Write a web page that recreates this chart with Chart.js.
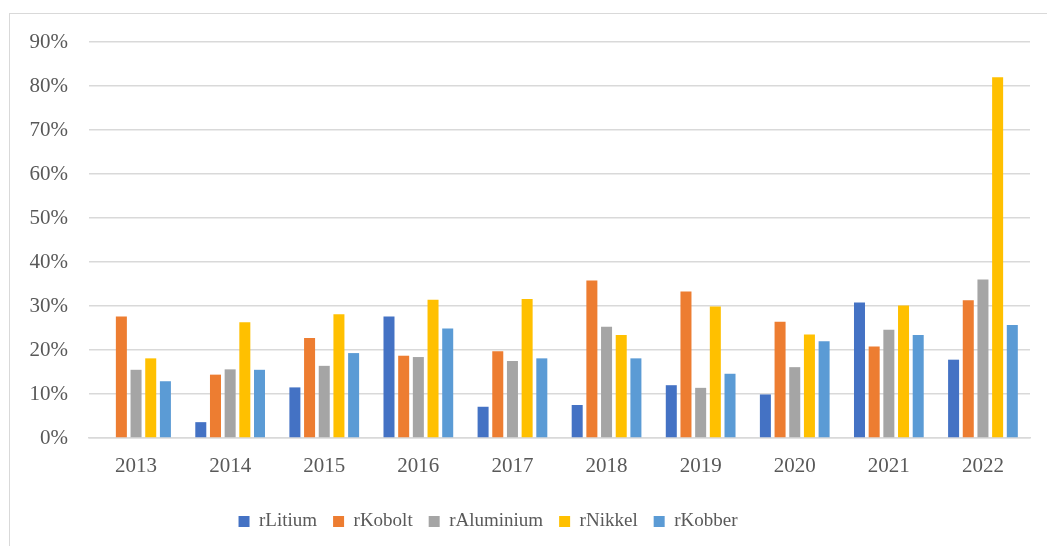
<html>
<head>
<title>Metallpriser</title>
<style type="text/css">
html, body {
	margin: 0;
	padding: 0;
	background: #fff;
	overflow: hidden;
}
#frame {
	position: absolute;
	left: 9px;
	top: 13px;
	width: 1100px;
	height: 600px;
	border: 1.5px solid #d9d9d9;
}
#wrap {
	position: absolute;
	left: 0;
	top: 0;
	width: 1047px;
	height: 546px;
}
</style>
<script src="https://cdn.jsdelivr.net/npm/chart.js"></script>
<script>
const years = ['2013', '2014', '2015', '2016', '2017', '2018', '2019', '2020', '2021', '2022'];
const yTicks = [0, 10, 20, 30, 40, 50, 60, 70, 80, 90];

// yearly values, in percent
const rLitium     = [0, 3.6, 11.5, 27.6, 7.1, 7.5, 12.0, 9.9, 30.8, 17.8];
const rKobolt     = [27.6, 14.4, 22.7, 18.7, 19.7, 35.8, 33.3, 26.4, 20.8, 31.3];
const rAluminium  = [15.5, 15.6, 16.4, 18.4, 17.5, 25.3, 11.4, 16.1, 24.6, 36.0];
const rNikkel     = [18.1, 26.3, 28.1, 31.4, 31.6, 23.4, 29.9, 23.5, 30.1, 82.0];
const rKobber     = [12.9, 15.5, 19.3, 24.9, 18.1, 18.1, 14.6, 22.0, 23.4, 25.7];

function serie(label, data, color)
{
	return {
		label: label,
		data: data,
		backgroundColor: color,
		borderColor: color,
		borderWidth: 0,
		categoryPercentage: 0.78,
		barPercentage: 0.75
	};
}

// legend sits a bit left of the centre
const legendShift = {
	id: 'legendShift',
	afterLayout(chart) {
		chart.legend.left -= 27;
		chart.legend.right -= 27;
	}
};

function load()
{
	const family = "'Liberation Serif', 'DejaVu Serif', serif";
	const font = { family: family, size: 21 };
	new Chart(document.getElementById('myChart'), {
		type: 'bar',
		data: {
			labels: years,
			datasets: [
				serie('rLitium', rLitium, '#4472C4'),
				serie('rKobolt', rKobolt, '#ED7D31'),
				serie('rAluminium', rAluminium, '#A5A5A5'),
				serie('rNikkel', rNikkel, '#FFC000'),
				serie('rKobber', rKobber, '#5B9BD5')
			]
		},
		options: {
			responsive: false,
			animation: false,
			layout: { padding: { left: 0, right: 17, top: 42, bottom: 5 } },
			plugins: {
				tooltip: { enabled: false },
				legend: {
					position: 'bottom',
					labels: {
						boxWidth: 11,
						boxHeight: 11,
						padding: 16,
						color: '#595959',
						font: { family: family, size: 19 }
					}
				}
			},
			scales: {
				x: {
					grid: { display: false },
					border: { display: true, color: '#d9d9d9', width: 1.5 },
					ticks: { color: '#595959', font: font, padding: 8 },
					afterFit: (s) => { s.height = 58; }
				},
				y: {
					min: 0,
					max: 90,
					afterBuildTicks: (s) => { s.ticks = yTicks.map(v => ({ value: v })); },
					grid: { color: '#d9d9d9', lineWidth: 1.5, drawTicks: false },
					border: { display: false },
					ticks: {
						color: '#595959',
						font: font,
						padding: 21,
						callback: (v) => v + '%'
					},
					afterFit: (s) => { s.width = 89; }
				}
			}
		},
		plugins: [legendShift]
	});
}
</script>
</head>
<body onload='load();'>
<div id='frame'></div>
<div id='wrap'><canvas id="myChart" width="1047" height="546"></canvas></div>
</body>
</html>
